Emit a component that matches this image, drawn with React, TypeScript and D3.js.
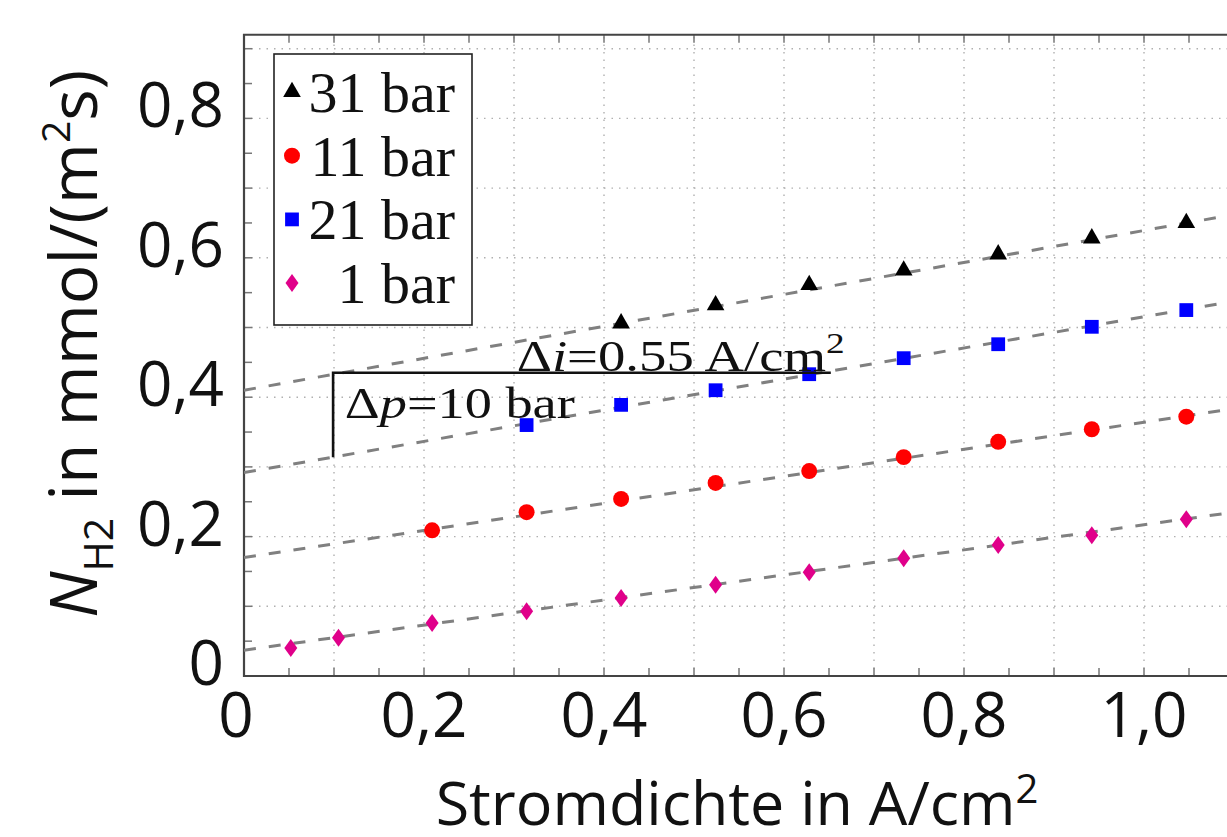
import React from "react";
import * as d3 from "d3";

const W = 1227;
const H = 837;

// current density in A/cm²
const currentDensity = [0.052, 0.105, 0.209, 0.314, 0.419, 0.524, 0.628, 0.733, 0.838, 0.942, 1.047];

// H2 flux in mmol/(m²s), null = no measurement
const flux31bar = [null, null, null, null, 0.506, 0.532, 0.561, 0.582, 0.605, 0.628, 0.65];
const flux11bar = [null, null, 0.209, 0.235, 0.254, 0.277, 0.294, 0.314, 0.336, 0.354, 0.372];
const flux21bar = [null, null, null, 0.36, 0.389, 0.41, 0.433, 0.456, 0.476, 0.501, 0.525];
const flux1bar = [0.04, 0.055, 0.076, 0.093, 0.112, 0.131, 0.149, 0.169, 0.188, 0.202, 0.225];

// dashed fit lines: value at x = 0 and at x = 1.2
const fitX = [0, 1.2];
const fit31 = [0.41, 0.685];
const fit11 = [0.17, 0.403];
const fit21 = [0.292, 0.56];
const fit1 = [0.037, 0.253];

const legendLabels = ["31 bar", "11 bar", "21 bar", "1 bar"];

const xTicks = [0, 0.2, 0.4, 0.6, 0.8, 1.0];
const yTicks = [0, 0.2, 0.4, 0.6, 0.8];
const fmt = (v: number) => (v === 0 ? "0" : v.toFixed(1).replace(".", ","));

// Δp / Δi bracket
const bracketX = [0.099, 0.652];
const bracketY = [0.314, 0.435];

const x = d3.scaleLinear().domain([0, 1]).range([244, 1144]);
const y = d3.scaleLinear().domain([0, 0.9]).range([676, 676 - 0.9 * 697]);

const yTop = 0.92;
const xRight = 1.25;

const diamond = "M0,-9L6.5,0L0,9L-6.5,0Z";
const series = [
  { label: legendLabels[0], values: flux31bar, fit: fit31, color: "#000000", path: d3.symbol().type(d3.symbolTriangle).size(135)() as string },
  { label: legendLabels[1], values: flux11bar, fit: fit11, color: "#ff0000", path: d3.symbol().type(d3.symbolCircle).size(200)() as string },
  { label: legendLabels[2], values: flux21bar, fit: fit21, color: "#0000ff", path: d3.symbol().type(d3.symbolSquare).size(190)() as string },
  { label: legendLabels[3], values: flux1bar, fit: fit1, color: "#e0008a", path: diamond },
];

const sans = "'Open Sans', sans-serif";
const serif = "'Liberation Serif', serif";

export default function App() {
  const gridX = d3.range(1, 13).map((i) => i / 10);
  const gridY = d3.range(1, 10).map((i) => i / 10);
  const minorX = d3.range(1, 25).map((i) => i / 20);
  const minorY = d3.range(1, 19).map((i) => i / 20);
  const line = d3
    .line<number>()
    .x((_, i) => x(fitX[i]))
    .y((d) => y(d));

  return (
    <svg width={W} height={H} style={{ position: "absolute", left: 0, top: 0, background: "#fff" }}>
      <defs>
        <clipPath id="plot">
          <rect x={x(0)} y={y(yTop)} width={x(xRight) - x(0)} height={y(0) - y(yTop)} />
        </clipPath>
      </defs>
      <rect width={W} height={H} fill="#fff" />

      {/* grid */}
      <g stroke="#b0b0b0" strokeWidth={1.4} strokeDasharray="1.5 6">
        {gridX.map((v) => (
          <line key={"gx" + v} x1={x(v)} x2={x(v)} y1={y(0)} y2={y(yTop)} />
        ))}
        {gridY.map((v) => (
          <line key={"gy" + v} x1={x(0)} x2={x(xRight)} y1={y(v)} y2={y(v)} />
        ))}
      </g>

      {/* ticks */}
      <g stroke="#777" strokeWidth={1.5}>
        {minorX.map((v) => (
          <g key={"tx" + v}>
            <line x1={x(v)} x2={x(v)} y1={y(0)} y2={y(0) - 8} />
            <line x1={x(v)} x2={x(v)} y1={y(yTop)} y2={y(yTop) + 8} />
          </g>
        ))}
        {minorY.map((v) => (
          <line key={"ty" + v} x1={x(0)} x2={x(0) + 8} y1={y(v)} y2={y(v)} />
        ))}
      </g>

      {/* frame */}
      <path
        d={`M${x(xRight)},${y(yTop)}H${x(0)}V${y(0)}H${x(xRight)}`}
        fill="none"
        stroke="#444"
        strokeWidth={2.2}
      />

      {/* fit lines */}
      <g clipPath="url(#plot)" fill="none" stroke="#808080" strokeWidth={3} strokeDasharray="12 13">
        {series.map((s) => (
          <path key={"f" + s.label} d={line(s.fit) as string} />
        ))}
      </g>

      {/* markers */}
      {series.map((s) => (
        <g key={"m" + s.label} fill={s.color}>
          {s.values.map((v, i) =>
            v == null ? null : (
              <path key={i} d={s.path} transform={`translate(${x(currentDensity[i])},${y(v)})`} />
            )
          )}
        </g>
      ))}

      {/* bracket annotation */}
      <path
        d={`M${x(bracketX[0])},${y(bracketY[0])}V${y(bracketY[1])}H${x(bracketX[1])}`}
        fill="none"
        stroke="#111"
        strokeWidth={2.6}
      />
      <text
        x={x(0.303)}
        y={y(bracketY[1]) - 2}
        fontFamily={serif}
        fontSize={44}
        textLength={328}
        lengthAdjust="spacingAndGlyphs"
        fill="#111"
      >
        Δ<tspan fontStyle="italic">i</tspan>=0.55 A/cm<tspan fontSize={30} dy={-18}>2</tspan>
      </text>
      <text
        x={x(0.112)}
        y={y(0.37)}
        fontFamily={serif}
        fontSize={44}
        textLength={230}
        lengthAdjust="spacingAndGlyphs"
        fill="#111"
      >
        Δ<tspan fontStyle="italic">p</tspan>=10 bar
      </text>

      {/* legend */}
      <rect x={274} y={54} width={198} height={271} fill="#fff" stroke="#222" strokeWidth={1.6} />
      {series.map((s, i) => (
        <g key={"l" + s.label} transform={`translate(0,${92 + i * 63.7})`}>
          <path d={s.path} fill={s.color} transform="translate(292,0)" />
          <text x={455} y={20} textAnchor="end" fontFamily={serif} fontSize={58} fill="#111">
            {s.label}
          </text>
        </g>
      ))}

      {/* tick labels */}
      <g fontFamily={sans} fontSize={62} fill="#111">
        {xTicks.map((v) => (
          <text key={"xl" + v} x={x(v) - (v === 0 ? 8 : 0)} y={737} textAnchor="middle">
            {fmt(v)}
          </text>
        ))}
        {yTicks.map((v) => (
          <text key={"yl" + v} x={224} y={y(v) + 9} textAnchor="end">
            {fmt(v)}
          </text>
        ))}
      </g>

      {/* axis titles */}
      <text x={737} y={825} textAnchor="middle" fontFamily={sans} fontSize={61} fill="#111">
        Stromdichte in A/cm<tspan fontSize={40} dy={-22}>2</tspan>
      </text>
      <text transform="translate(97,618) rotate(-90)" fontFamily={sans} fontSize={66} fill="#111">
        <tspan fontStyle="italic">N</tspan>
        <tspan fontSize={41} dy={16}>H2</tspan>
        <tspan dy={-16}> in mmol/(m</tspan>
        <tspan fontSize={39} dy={-27}>2</tspan>
        <tspan dy={27}>s)</tspan>
      </text>
    </svg>
  );
}
